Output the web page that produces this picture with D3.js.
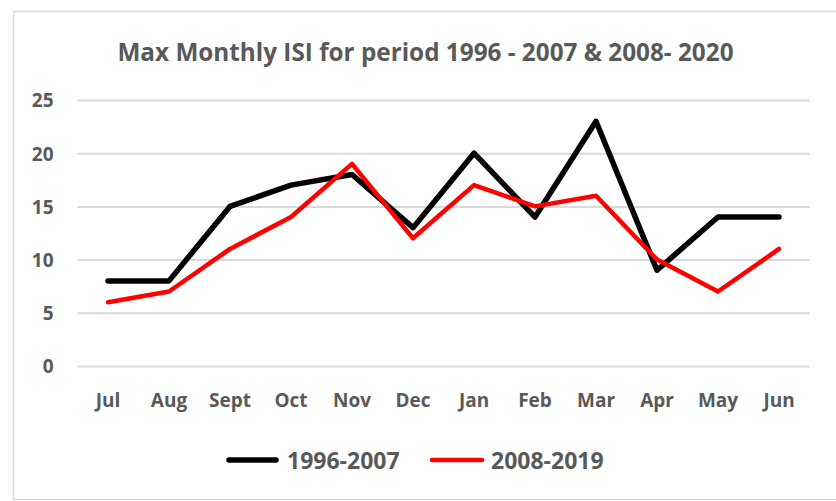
<!DOCTYPE html>
<html><head><meta charset="utf-8">
<script src="https://cdn.jsdelivr.net/npm/d3@7"></script>
<style>body{margin:0;background:#fff}svg{display:block}</style>
</head><body>
<script>
const months = ["Jul","Aug","Sept","Oct","Nov","Dec","Jan","Feb","Mar","Apr","May","Jun"];
const series1996 = [8,8,15,17,18,13,20,14,23,9,14,14];
const series2008 = [6,7,11,14,19,12,17,15,16,10,7,11];
const yTicks = [0,5,10,15,20,25];
const seriesNames = ["1996-2007","2008-2019"];
const title = "Max Monthly ISI for period 1996 - 2007 & 2008- 2020";

const W = 836, H = 501;
const svg = d3.select("body").append("svg").attr("width", W).attr("height", H);
const font = "'Open Sans', 'Liberation Sans', sans-serif";
const grey = "#595959";

svg.append("rect").attr("x",13.5).attr("y",11.5).attr("width",W).attr("height",488)
  .attr("fill","#fff").attr("stroke","#d9d9d9").attr("stroke-width",1.5);

const x = d3.scaleBand().domain(months).range([77.5, 809.5]).padding(0);
const y = d3.scaleLinear().domain([0,25]).range([366,100]);

svg.append("text").attr("x",425.5).attr("y",61).attr("text-anchor","middle")
  .attr("font-family",font).attr("font-weight",700).attr("font-size",24.3)
  .attr("fill",grey).text(title);

const gy = svg.append("g").attr("transform","translate(77.5,0)")
  .call(d3.axisLeft(y).tickValues(yTicks).tickSize(-(809.5-77.5)).tickFormat(d3.format("d")));
gy.select(".domain").remove();
gy.selectAll(".tick line").attr("stroke","#d9d9d9").attr("stroke-width",2);
gy.selectAll(".tick text").attr("x",-24).attr("dy","0.36em")
  .attr("font-family",font).attr("font-weight",700).attr("font-size",19).attr("fill",grey);

const gx = svg.append("g").attr("transform","translate(0,366)")
  .call(d3.axisBottom(x).tickSize(0));
gx.select(".domain").remove();
gx.selectAll(".tick text").attr("y",41).attr("dy","0")
  .attr("font-family",font).attr("font-weight",700).attr("font-size",19).attr("fill",grey);

const line = d3.line().x((d,i)=>x(months[i])+x.bandwidth()/2).y(d=>y(d));
svg.append("path").datum(series1996).attr("d",line).attr("fill","none")
  .attr("stroke","#000").attr("stroke-width",5.5).attr("stroke-linecap","round").attr("stroke-linejoin","round");
svg.append("path").datum(series2008).attr("d",line).attr("fill","none")
  .attr("stroke","#ff0000").attr("stroke-width",4.5).attr("stroke-linecap","round").attr("stroke-linejoin","round");

const legend = [{name:seriesNames[0],color:"#000",w:5.5,x1:229,x2:276,tx:287},
                {name:seriesNames[1],color:"#ff0000",w:4.5,x1:432,x2:482,tx:491}];
const lg = svg.append("g");
legend.forEach(l=>{
  lg.append("line").attr("x1",l.x1).attr("x2",l.x2).attr("y1",460).attr("y2",460)
    .attr("stroke",l.color).attr("stroke-width",l.w).attr("stroke-linecap","round");
  lg.append("text").attr("x",l.tx).attr("y",469).attr("font-family",font).attr("font-weight",700)
    .attr("font-size",23).attr("fill",grey).text(l.name);
});
</script>
</body></html>
